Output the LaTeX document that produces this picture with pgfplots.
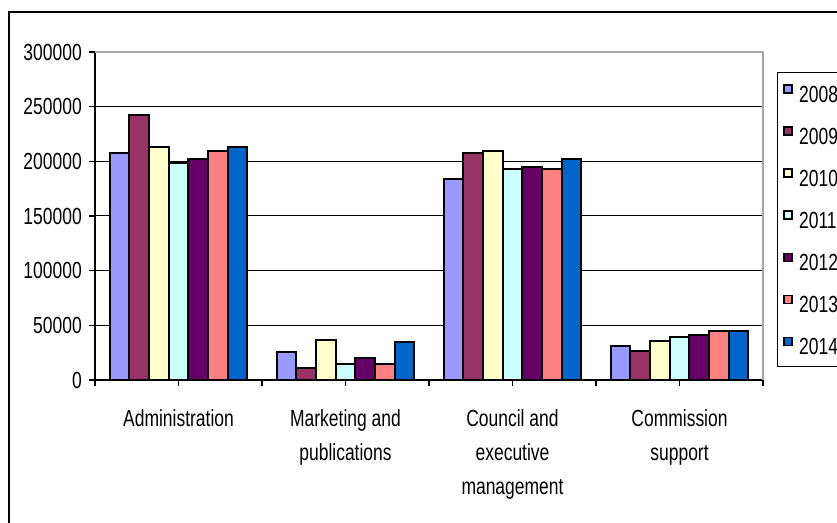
\documentclass[border=0pt]{standalone}
\usepackage{pgfplots}
\pgfplotsset{compat=1.18}
\usepackage{pgfplotstable}
\usepackage{fontspec}
\setmainfont{Liberation Sans}[FakeStretch=0.75]
\newcommand\cf{\fontsize{23.3bp}{34bp}\selectfont}
\definecolor{c08}{HTML}{9999FF}
\definecolor{c09}{HTML}{993366}
\definecolor{c10}{HTML}{FFFFCC}
\definecolor{c11}{HTML}{CCFFFF}
\definecolor{c12}{HTML}{660066}
\definecolor{c13}{HTML}{FF8080}
\definecolor{c14}{HTML}{0066CC}
\pgfplotstableread{
x y08 y09 y10 y11 y12 y13 y14
0 207200 242300 213000 198600 202300 209600 213000
1 25700 11000 36400 15000 20200 15000 34900
2 183400 207300 209200 192600 194400 192600 201800
3 31100 26400 35500 39000 40900 44700 44700
}\data
\pgfplotsset{sq legend/.style={legend image code/.code={\draw[##1, draw=black, line width=1.5bp] (0bp,1bp) rectangle (8bp,9bp);}}}
\begin{document}
\begin{tikzpicture}[x=1bp,y=1bp]
\useasboundingbox (0,0) rectangle (837,523);
\clip (0,0) rectangle (837,523);
\fill[white] (0,0) rectangle (837,523);
\draw[black, line width=1.2bp] (9,-10) rectangle (900,511);
\begin{axis}[
  at={(95bp,143bp)}, anchor=south west,
  width=668bp, height=328bp, scale only axis,
  xmin=-0.5, xmax=3.5, ymin=0, ymax=300000,
  ybar=0pt, bar width=19.65bp,
  axis x line*=bottom, axis y line*=left,
  axis line style={-, black, line width=1.2bp},
  ymajorgrids, major grid style={black, line width=1bp},
  ytick={0,50000,100000,150000,200000,250000,300000},
  scaled y ticks=false,
  /pgf/number format/.cd, fixed, 1000 sep={}, assume math mode=true, /pgfplots/.cd,
  tick align=outside, major tick length=6bp,
  tick style={black, line width=1.2bp},
  xtick={0,1,2,3},
  extra x ticks={-0.5,0.5,1.5,2.5,3.5},
  extra x tick labels={},
  extra x tick style={grid=none},
  xticklabels={Administration, {Marketing and\\publications}, {Council and\\executive\\management}, {Commission\\support}},
  xticklabel style={font=\cf, align=center, inner sep=0pt, yshift=-23bp},
  yticklabel style={font=\cf, inner sep=0pt, xshift=-7bp},
  legend style={at={(1.021,0.939)}, anchor=north west, draw=black, line width=1.2bp, fill=white, font=\cf,
    inner xsep=5.5bp, inner ysep=11.5bp, row sep=24bp,
    nodes={inner sep=0pt, text height=16.7bp, text depth=0pt},
    /tikz/every odd column/.append style={column sep=6.5bp}},
  legend cell align=left,
  every axis plot/.append style={draw=black, line width=2bp},
  clip=false,
]
\addplot[fill=c08, draw=black, sq legend] table[x=x, y=y08] {\data};
\addplot[fill=c09, draw=black, sq legend] table[x=x, y=y09] {\data};
\addplot[fill=c10, draw=black, sq legend] table[x=x, y=y10] {\data};
\addplot[fill=c11, draw=black, sq legend] table[x=x, y=y11] {\data};
\addplot[fill=c12, draw=black, sq legend] table[x=x, y=y12] {\data};
\addplot[fill=c13, draw=black, sq legend] table[x=x, y=y13] {\data};
\addplot[fill=c14, draw=black, sq legend] table[x=x, y=y14] {\data};
\legend{2008,2009,2010,2011,2012,2013,2014}
\draw[gray!70, line width=1.8bp] (rel axis cs:0,1) -- (rel axis cs:1,1) -- (rel axis cs:1,0);
\end{axis}
\end{tikzpicture}
\end{document}
